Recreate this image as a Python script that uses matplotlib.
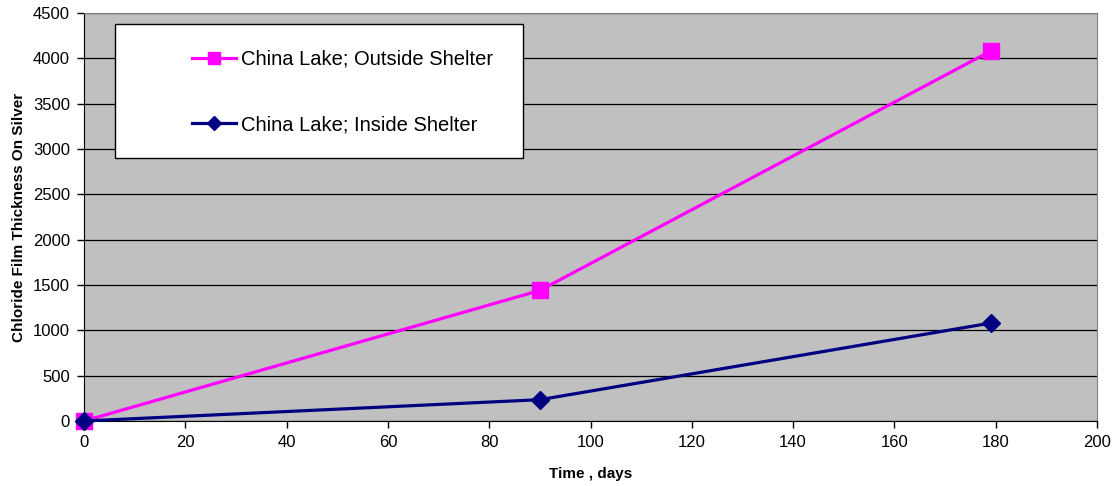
import matplotlib.pyplot as plt
from matplotlib.patches import Rectangle

plt.rcParams['font.family'] = ['Liberation Sans', 'DejaVu Sans']

# values
days = [0, 90, 179]
outside = [0, 1440, 4080]
inside = [0, 235, 1080]
x_ticks = list(range(0, 201, 20))
y_ticks = list(range(0, 4501, 500))

fig = plt.figure(figsize=(11.14, 4.86), dpi=100)
ax = fig.add_axes([84/1114, 1 - 421/486, 1013/1114, 408/486])
ax.set_facecolor('#C0C0C0')

ax.plot(days, outside, color='#FF00FF', lw=2.3, marker='s', markersize=12,
        label='China Lake; Outside Shelter', clip_on=False, zorder=3)
ax.plot(days, inside, color='#000080', lw=2.3, marker='D', markersize=9.5,
        label='China Lake; Inside Shelter', clip_on=False, zorder=4)

ax.set_xlim(0, 200)
ax.set_ylim(0, 4500)
ax.set_xticks(x_ticks)
ax.set_yticks(y_ticks)
ax.tick_params(labelsize=12, length=5, width=1, color='black', pad=5)
ax.yaxis.grid(True, color='black', lw=0.9)
ax.set_axisbelow(True)

for s in ['top', 'right']:
    ax.spines[s].set_color('#808080')
for s in ['left', 'bottom']:
    ax.spines[s].set_color('black')

ax.set_xlabel('Time , days', fontsize=11, fontweight='bold', labelpad=12)
ax.set_ylabel('Chloride Film Thickness On Silver', fontsize=11, fontweight='bold', labelpad=5)

# legend box like Excel
ax.add_patch(Rectangle((31/1013, (421-158)/408), 408/1013, 134/408, transform=ax.transAxes,
                       facecolor='white', edgecolor='black', lw=1, zorder=5))
leg = ax.legend(loc='upper left', bbox_to_anchor=(108/1013, (421-50)/408), frameon=False,
                fontsize=14.5, handlelength=2.2, handletextpad=0.25, labelspacing=2.3,
                borderpad=0, borderaxespad=0, markerscale=0.75)
leg.set_zorder(6)

fig.savefig('out.png')
